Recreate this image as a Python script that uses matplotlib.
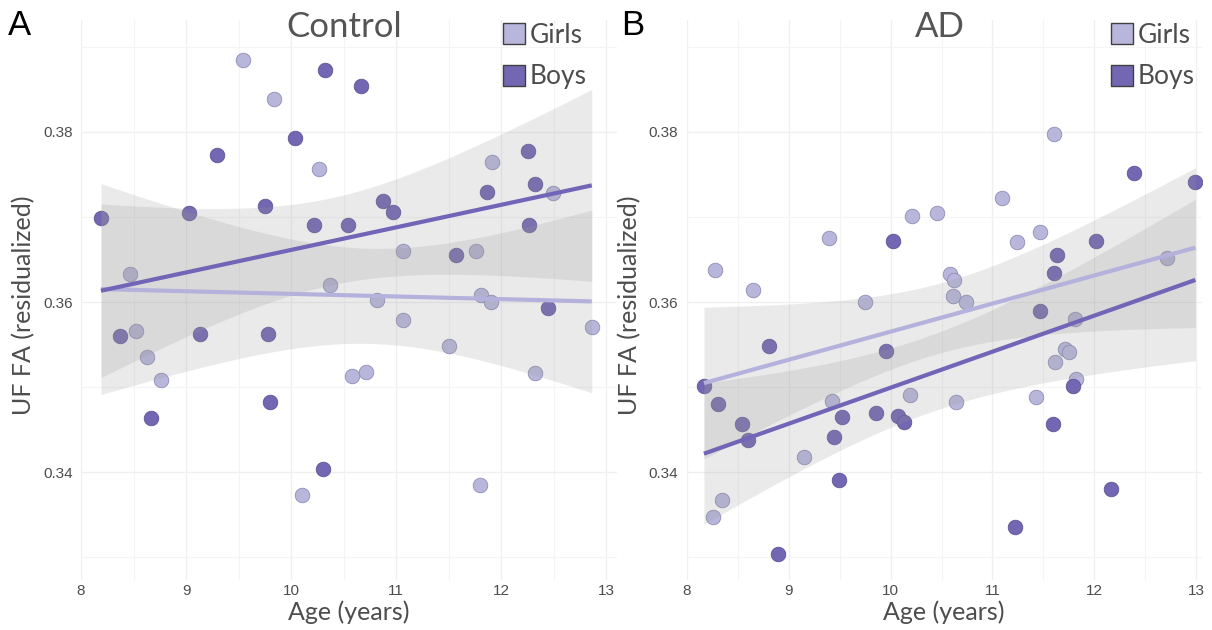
import numpy as np
import matplotlib
matplotlib.use("Agg")
import matplotlib.pyplot as plt
from matplotlib.patches import Patch
from matplotlib.ticker import MultipleLocator

# ---------------- data ----------------
ctrl_girls_age = [9.54, 9.84, 10.26, 11.91, 12.49, 11.06, 11.76, 8.47, 10.37, 10.82,
                  11.81, 11.90, 12.86, 8.52, 8.63, 8.76, 11.06, 11.50, 10.58, 10.71,
                  12.32, 10.10, 11.80]
ctrl_girls_fa = [0.3884, 0.3839, 0.3756, 0.3764, 0.3728, 0.3660, 0.3660, 0.3633, 0.3620, 0.3602,
                 0.3608, 0.3600, 0.3571, 0.3566, 0.3535, 0.3508, 0.3579, 0.3548, 0.3513, 0.3518,
                 0.3517, 0.3373, 0.3385]
ctrl_boys_age = [10.32, 10.66, 10.04, 9.29, 12.25, 12.32, 11.86, 9.75, 10.87, 10.97,
                 9.03, 8.19, 10.22, 10.54, 12.26, 11.57, 12.44, 8.37, 9.13, 9.78,
                 8.67, 9.80, 10.30]
ctrl_boys_fa = [0.3873, 0.3854, 0.3793, 0.3773, 0.3777, 0.3739, 0.3729, 0.3713, 0.3719, 0.3706,
                0.3705, 0.3699, 0.3690, 0.3690, 0.3691, 0.3655, 0.3593, 0.3560, 0.3563, 0.3563,
                0.3464, 0.3483, 0.3404]

ad_girls_age = [11.60, 11.09, 10.21, 10.46, 9.40, 11.24, 11.47, 8.28, 8.65, 10.58,
                10.62, 10.61, 10.74, 9.75, 12.71, 11.81, 11.71, 11.75, 11.61, 11.82,
                11.43, 10.64, 10.19, 9.43, 9.15, 8.35, 8.26]
ad_girls_fa = [0.3797, 0.3722, 0.3701, 0.3705, 0.3675, 0.3670, 0.3682, 0.3637, 0.3614, 0.3633,
               0.3626, 0.3607, 0.3600, 0.3600, 0.3652, 0.3580, 0.3545, 0.3541, 0.3530, 0.3510,
               0.3489, 0.3483, 0.3491, 0.3484, 0.3418, 0.3367, 0.3348]
ad_boys_age = [12.39, 12.99, 10.02, 12.02, 11.63, 11.60, 11.47, 8.81, 9.96, 8.17,
               11.79, 8.31, 8.54, 8.60, 9.52, 9.86, 10.07, 10.13, 9.45, 11.59,
               9.49, 12.16, 11.22, 8.90]
ad_boys_fa = [0.3752, 0.3741, 0.3672, 0.3672, 0.3655, 0.3634, 0.3589, 0.3548, 0.3543, 0.3501,
              0.3501, 0.3480, 0.3457, 0.3438, 0.3465, 0.3470, 0.3466, 0.3459, 0.3441, 0.3457,
              0.3391, 0.3380, 0.3336, 0.3304]

titles = ["Control", "AD"]
panel_letters = ["A", "B"]
group_labels = ["Girls", "Boys"]
x_ticks = [8, 9, 10, 11, 12, 13]
y_ticks = [0.34, 0.36, 0.38]

girl_color = "#B8B6DB"
boy_color = "#7366B2"
line_girl = "#B4B2DC"
line_boy = "#7264B6"
text_gray = "#4D4D4D"

W, H = 1212, 630
fig = plt.figure(figsize=(W / 100, H / 100), dpi=100)
fig.patch.set_facecolor("white")

TITLE_FONT = ["Lato", "DejaVu Sans"]
TICK_FONT = ["Liberation Sans", "DejaVu Sans"]


def t975(df):
    z = 1.959964
    return (z + (z ** 3 + z) / (4 * df) + (5 * z ** 5 + 16 * z ** 3 + 3 * z) / (96 * df ** 2))


def fit_band(x, y, xs):
    x = np.asarray(x); y = np.asarray(y)
    n = len(x)
    b, a = np.polyfit(x, y, 1)
    yhat = a + b * x
    s = np.sqrt(np.sum((y - yhat) ** 2) / (n - 2))
    xm = x.mean()
    sxx = np.sum((x - xm) ** 2)
    pred = a + b * xs
    se = s * np.sqrt(1.0 / n + (xs - xm) ** 2 / sxx)
    t = t975(n - 2)
    return pred, pred - t * se, pred + t * se


def panel(rect, xlim, data, title, letter, letter_pos, ylab_x, legend_x, title_x):
    ax = fig.add_axes(rect)
    ax.set_xlim(*xlim)
    ax.set_ylim(0.32735, 0.39312)
    for sp in ax.spines.values():
        sp.set_visible(False)
    ax.xaxis.set_minor_locator(MultipleLocator(0.5))
    ax.yaxis.set_minor_locator(MultipleLocator(0.01))
    ax.set_xticks(x_ticks)
    ax.set_yticks(y_ticks)
    ax.set_xticklabels([str(v) for v in x_ticks])
    ax.set_yticklabels([f"{v:.2f}" for v in y_ticks])
    ax.grid(True, which="major", color="#EFEFEF", lw=0.9)
    ax.grid(True, which="minor", color="#F4F4F4", lw=0.8)
    ax.set_axisbelow(True)
    ax.tick_params(which="both", length=0, labelsize=11, labelcolor=text_gray)
    ax.tick_params(axis="y", pad=6)
    ax.tick_params(axis="x", pad=3)
    for lab in ax.get_xticklabels() + ax.get_yticklabels():
        lab.set_family(TICK_FONT)

    (ga, gf), (ba, bf) = data
    ax.scatter(ga, gf, s=110, color=girl_color, edgecolor="#8E8CB4", linewidth=0.6, zorder=2)
    ax.scatter(ba, bf, s=110, color=boy_color, edgecolor="#5E5596", linewidth=0.6, zorder=2)

    allx = np.concatenate([ga, ba])
    xs = np.linspace(allx.min(), allx.max(), 200)
    fits = [(fit_band(xx, yy, xs), lc) for (xx, yy), lc in
            [((ga, gf), line_girl), ((ba, bf), line_boy)]]
    for (pred, lo, hi), lc in fits:
        ax.fill_between(xs, lo, hi, color="#999999", alpha=0.2, lw=0, zorder=3)
    for (pred, lo, hi), lc in fits:
        ax.plot(xs, pred, color=lc, lw=3, zorder=4, solid_capstyle="butt")

    ax.text(title_x, 1 - 17 / 560, title, fontsize=25, color="#555555", family=TITLE_FONT,
            ha="center", va="baseline", transform=ax.transAxes)
    ax.set_xlabel("Age (years)", fontsize=18, color=text_gray, family=TITLE_FONT)
    ax.xaxis.set_label_coords(0.5, -0.037)
    ax.set_ylabel("UF FA (residualized)", fontsize=18, color=text_gray, family=TITLE_FONT)
    ax.yaxis.set_label_coords(ylab_x, 0.49)

    handles = [Patch(facecolor=girl_color, edgecolor="#404040", lw=1.0),
               Patch(facecolor=boy_color, edgecolor="#404040", lw=1.0)]
    leg = ax.legend(handles, group_labels, loc="upper left",
                    bbox_to_anchor=(legend_x / W, 1 - 23 / H), bbox_transform=fig.transFigure,
                    frameon=False, borderpad=0, borderaxespad=0,
                    handlelength=0.85, handleheight=0.85, handletextpad=0.15,
                    labelspacing=0.62, prop={"family": TITLE_FONT, "size": 19})
    for t in leg.get_texts():
        t.set_color(text_gray)

    fig.text(letter_pos[0] / W, 1 - letter_pos[1] / H, letter, fontsize=25,
             family=TICK_FONT, color="black", va="baseline", ha="left")
    return ax


ax_bottom = (H - 580) / H
ax_height = 560 / H

panel([81 / W, ax_bottom, (617 - 81) / W, ax_height], (8, 13.1),
      ((np.array(ctrl_girls_age), np.array(ctrl_girls_fa)),
       (np.array(ctrl_boys_age), np.array(ctrl_boys_fa))),
      titles[0], panel_letters[0], (8, 35), -0.086, 503, 0.491)
panel([686.6 / W, ax_bottom, (1201.5 - 686.6) / W, ax_height], (8, 13.05),
      ((np.array(ad_girls_age), np.array(ad_girls_fa)),
       (np.array(ad_boys_age), np.array(ad_boys_fa))),
      titles[1], panel_letters[1], (621, 35), -0.088, 1111, 0.492)

fig.savefig("out.png", dpi=100, facecolor="white")
